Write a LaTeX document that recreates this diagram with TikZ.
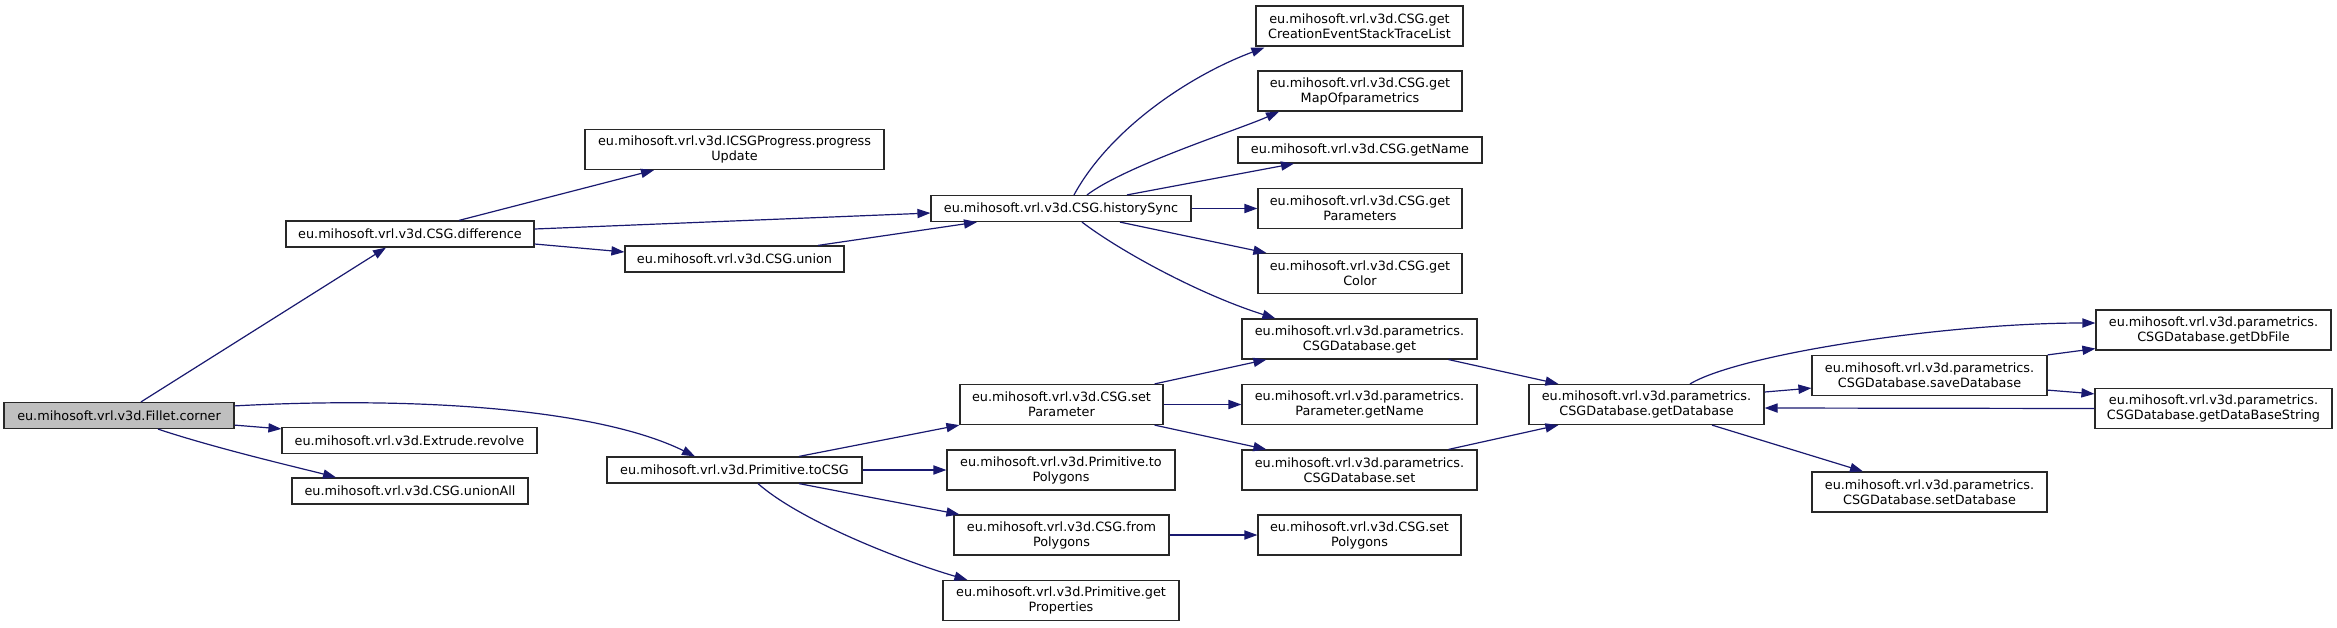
\documentclass[tikz,border=0pt]{standalone}
\usepackage{fontspec}
\setmainfont{DejaVu Sans}
\usetikzlibrary{arrows.meta,calc}
\definecolor{CallEdge}{RGB}{25,25,112}
\definecolor{CallRoot}{RGB}{191,191,191}
\definecolor{CallBorder}{RGB}{40,40,40}
\tikzset{
  fn/.style={draw=CallBorder, fill=white, line width=0.6pt, align=center,
             font=\fontsize{6.4}{7.5}\selectfont, inner sep=1pt, minimum height=13pt},
  fntwo/.style={fn, minimum height=20pt},
  fnroot/.style={fn, fill=CallRoot},
  call/.style={-{Triangle[length=6.5pt,width=4.6pt]}, line width=0.6pt, CallEdge},
}

\begin{document}
\begin{tikzpicture}[x=0.5pt, y=-0.5pt]
  \path[use as bounding box, fill=white] (0,0) rectangle (2337,627);

  % raiz e primeiro nivel
  \node[fnroot, minimum width=115pt] (corner) at (119,415.5) {eu.mihosoft.vrl.v3d.Fillet.corner};
  \node[fn, minimum width=124pt] (diff) at (410,234) {eu.mihosoft.vrl.v3d.CSG.difference};
  \node[fn, minimum width=127.5pt] (revolve) at (409.5,440.5) {eu.mihosoft.vrl.v3d.Extrude.revolve};
  \node[fn, minimum width=118pt] (unionall) at (410,491) {eu.mihosoft.vrl.v3d.CSG.unionAll};

  % segundo nivel
  \node[fntwo, minimum width=149.5pt] (prog) at (734.5,149.5) {eu.mihosoft.vrl.v3d.ICSGProgress.progress\\Update};
  \node[fn, minimum width=109.5pt] (union) at (734.5,259) {eu.mihosoft.vrl.v3d.CSG.union};
  \node[fn, minimum width=127.5pt] (tocsg) at (734.5,470) {eu.mihosoft.vrl.v3d.Primitive.toCSG};

  % terceiro nivel
  \node[fn, minimum width=130pt] (history) at (1061,208.5) {eu.mihosoft.vrl.v3d.CSG.historySync};
  \node[fntwo, minimum width=101.5pt] (setparam) at (1061.5,404.5) {eu.mihosoft.vrl.v3d.CSG.set\\Parameter};
  \node[fntwo, minimum width=114pt] (topoly) at (1061,470) {eu.mihosoft.vrl.v3d.Primitive.to\\Polygons};
  \node[fntwo, minimum width=107.5pt] (frompoly) at (1061.5,535) {eu.mihosoft.vrl.v3d.CSG.from\\Polygons};
  \node[fntwo, minimum width=118pt] (getprops) at (1061,600.5) {eu.mihosoft.vrl.v3d.Primitive.get\\Properties};

  % quarto nivel
  \node[fntwo, minimum width=103.5pt] (creation) at (1359.5,26) {eu.mihosoft.vrl.v3d.CSG.get\\CreationEventStackTraceList};
  \node[fntwo, minimum width=102pt] (mapof) at (1360,91) {eu.mihosoft.vrl.v3d.CSG.get\\MapOfparametrics};
  \node[fn, minimum width=122pt] (getname) at (1360,150) {eu.mihosoft.vrl.v3d.CSG.getName};
  \node[fntwo, minimum width=102pt] (getparams) at (1360,208.5) {eu.mihosoft.vrl.v3d.CSG.get\\Parameters};
  \node[fntwo, minimum width=102pt] (getcolor) at (1360,273.5) {eu.mihosoft.vrl.v3d.CSG.get\\Color};
  \node[fntwo, minimum width=117.5pt] (dbget) at (1359.5,339) {eu.mihosoft.vrl.v3d.parametrics.\\CSGDatabase.get};
  \node[fntwo, minimum width=117.5pt] (paramname) at (1359.5,404.5) {eu.mihosoft.vrl.v3d.parametrics.\\Parameter.getName};
  \node[fntwo, minimum width=117.5pt] (dbset) at (1359.5,470) {eu.mihosoft.vrl.v3d.parametrics.\\CSGDatabase.set};
  \node[fntwo, minimum width=101.5pt] (setpoly) at (1359.5,535) {eu.mihosoft.vrl.v3d.CSG.set\\Polygons};

  % banco de dados
  \node[fntwo, minimum width=117.5pt] (getdb) at (1646.5,404.5) {eu.mihosoft.vrl.v3d.parametrics.\\CSGDatabase.getDatabase};
  \node[fntwo, minimum width=117.5pt] (savedb) at (1929.5,375.5) {eu.mihosoft.vrl.v3d.parametrics.\\CSGDatabase.saveDatabase};
  \node[fntwo, minimum width=117.5pt] (setdb) at (1929.5,492) {eu.mihosoft.vrl.v3d.parametrics.\\CSGDatabase.setDatabase};
  \node[fntwo, minimum width=117.5pt] (dbfile) at (2213.5,330) {eu.mihosoft.vrl.v3d.parametrics.\\CSGDatabase.getDbFile};
  \node[fntwo, minimum width=118.5pt] (dbstring) at (2213.5,408.5) {eu.mihosoft.vrl.v3d.parametrics.\\CSGDatabase.getDataBaseString};

  % chamadas
  \draw[call] ($(corner.north)+(22,0)$) -- ($(diff.south)+(-24,0)$);
  \draw[call] ($(corner.north east)+(0,4)$) .. controls +(186,-10) and +(-95,-47) .. ($(tocsg.north)+(-39.5,0)$);
  \draw[call] ($(corner.south east)+(0,-4)$) -- ($(revolve.north west)+(0,2)$);
  \draw[call] ($(corner.south)+(39,0)$) .. controls +(60,20) and +(-30,-8) .. ($(unionall.north)+(-74,0)$);
  \draw[call] ($(diff.north)+(49,0)$) -- ($(prog.south)+(-80.5,0)$);
  \draw[call] ($(diff.east)+(0,-5)$) -- ($(history.west)+(0,4.5)$);
  \draw[call] ($(diff.east)+(0,10)$) -- ($(union.west)+(0,-7)$);
  \draw[call] ($(union.north)+(83.5,0)$) -- ($(history.south)+(-84,0)$);
  \draw[call] ($(history.north)+(13,0)$) .. controls +(36,-66) and +(-75,28) .. ($(creation.south west)+(9,1)$);
  \draw[call] ($(history.north)+(26,0)$) .. controls +(40,-30) and +(-40,18) .. ($(mapof.south)+(-81,0)$);
  \draw[call] ($(history.north)+(66,0)$) -- ($(getname.south)+(-66,0)$);
  \draw[call] (history.east) -- (getparams.west);
  \draw[call] ($(history.south)+(59,0)$) -- ($(getcolor.north west)+(9,0)$);
  \draw[call] ($(history.south)+(21,0)$) .. controls +(38,29) and +(-76,-24) .. ($(dbget.north west)+(34,0)$);
  \draw[call] ($(tocsg.north)+(64.5,0)$) -- (setparam.south west);
  \draw[call] (tocsg.east) -- (topoly.west);
  \draw[call] ($(tocsg.south)+(64.5,0)$) -- ($(frompoly.north west)+(6,0)$);
  \draw[call] ($(tocsg.south)+(23.5,0)$) .. controls +(42,37) and +(-68,-20) .. ($(getprops.north west)+(25,0)$);
  \draw[call] ($(setparam.north east)+(-9,0)$) -- ($(dbget.south west)+(25,0)$);
  \draw[call] (setparam.east) -- (paramname.west);
  \draw[call] ($(setparam.south east)+(-9,0)$) -- ($(dbset.north west)+(25,0)$);
  \draw[call] (frompoly.east) -- (setpoly.west);
  \draw[call] ($(dbget.south east)+(-29,0)$) -- ($(getdb.north west)+(30,0)$);
  \draw[call] ($(dbset.north east)+(-29,0)$) -- ($(getdb.south west)+(30,0)$);
  \draw[call] ($(getdb.north)+(43.5,0)$) .. controls +(50,-30) and +(-150,0) .. ($(dbfile.west)+(0,-7)$);
  \draw[call] ($(getdb.east)+(0,-12.5)$) -- ($(savedb.south west)+(0,-8)$);
  \draw[call] (savedb.north east) -- ($(dbfile.south west)+(0,-2)$);
  \draw[call] ($(savedb.south east)+(0,-6)$) -- ($(dbstring.north west)+(0,6)$);
  \draw[call] (dbstring.west) -- ($(getdb.east)+(0,3.5)$);
  \draw[call] ($(getdb.south)+(65.5,0)$) -- ($(setdb.north)+(-66.5,0)$);
\end{tikzpicture}
\end{document}
